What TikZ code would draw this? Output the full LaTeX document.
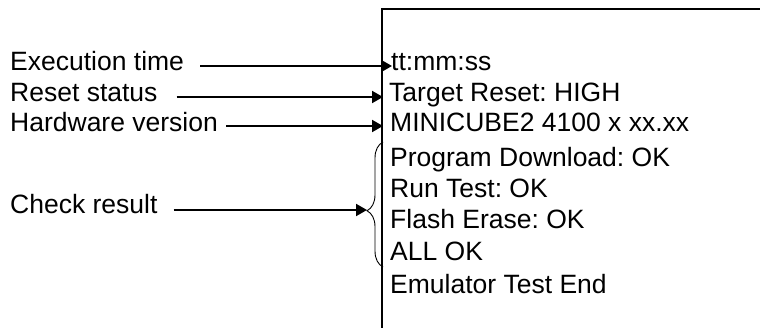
\documentclass[tikz,border=0pt]{standalone}
\usepackage{fontspec}
\setmainfont{Liberation Sans}
\usetikzlibrary{arrows.meta,decorations.pathreplacing}
\frenchspacing

\begin{document}
\begin{tikzpicture}[x=1pt,y=-1pt,
every node/.style={inner sep=0pt,anchor=base west,font=\fontsize{26.5}{31}\selectfont},
pointer/.style={line width=2pt,-{Triangle[length=11pt,width=12pt]}},
frame/.style={line width=1.3pt}]
\useasboundingbox (0,0) rectangle (760,328);
% display window
\draw[frame] (382,328) -- (382,9) -- (760,9);
\node (time)  at (391,71)  {tt:mm:ss};
\node (reset) at (389,102) {Target Reset: HIGH};
\node (hw)    at (390,132) {MINICUBE2 4100 x xx.xx};
\node (dl)    at (390,167) {Program Download: OK};
\node (run)   at (390,198) {Run Test: OK};
\node (erase) at (390,229) {Flash Erase: OK};
\node (allok) at (390,261) {ALL OK};
\node (done)  at (390,294) {Emulator Test End};
% labels
\node (timelbl)  at (10,71)  {Execution time};
\node (resetlbl) at (10,102) {Reset status};
\node (hwlbl)    at (10,132) {Hardware version};
\node (chklbl)   at (10,214) {Check result};
% brace round the check lines
\draw[line width=0.9pt,decorate,decoration={brace,amplitude=16pt,aspect=0.45}]
  (383,267) -- (383,142);
\coordinate (tip) at (367,210);
% arrows
\draw[pointer] ([xshift=16pt,yshift=5pt]timelbl.base east) -- ([xshift=1pt,yshift=5pt]time.base west);
\draw[pointer] ([xshift=19pt,yshift=5pt]resetlbl.base east) -- ([xshift=-6pt,yshift=5pt]reset.base west);
\draw[pointer] ([xshift=8pt,yshift=6pt]hwlbl.base east) -- ([xshift=-7pt,yshift=6pt]hw.base west);
\draw[pointer] ([xshift=16pt]chklbl.base east |- tip) -- (tip);
\end{tikzpicture}
\end{document}
